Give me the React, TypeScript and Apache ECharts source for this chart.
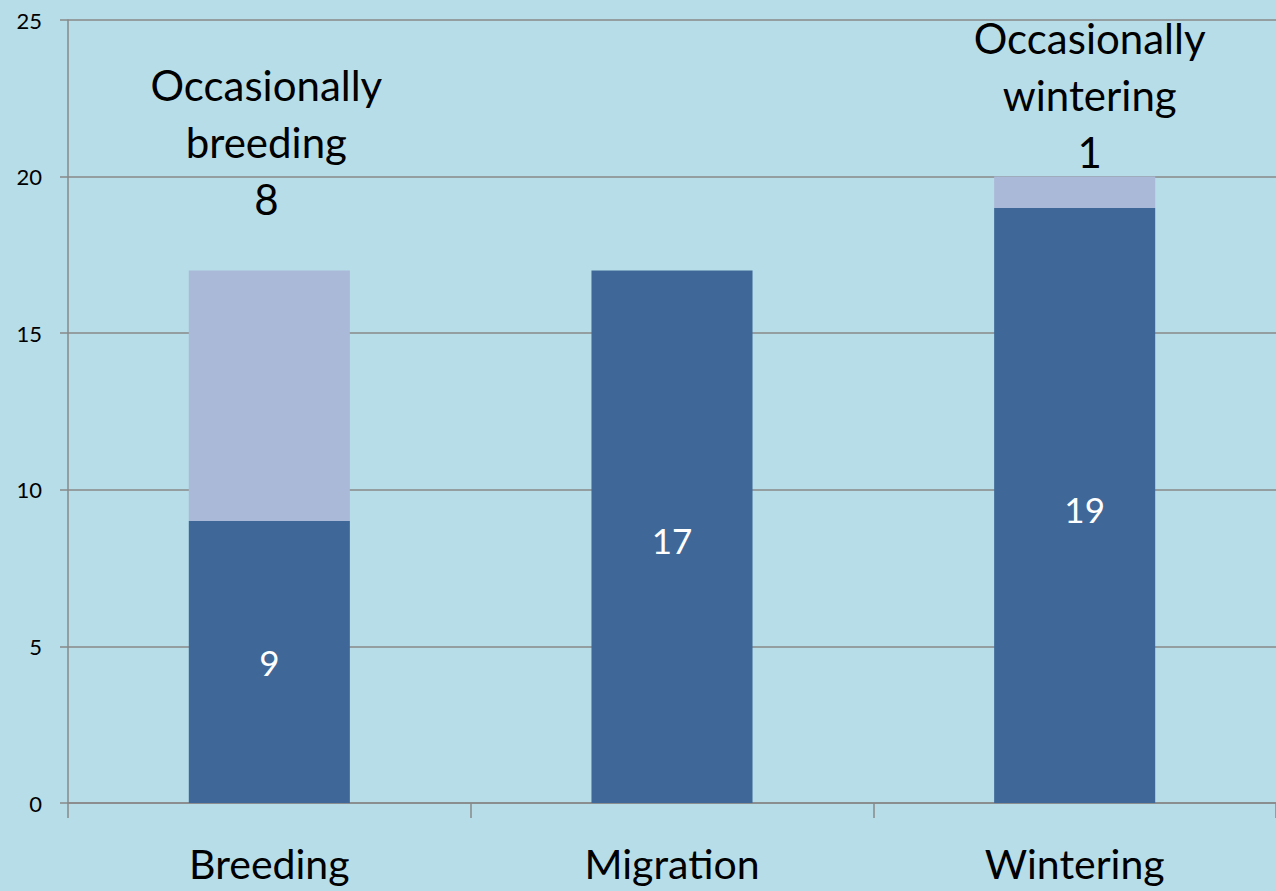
import React, { useEffect, useRef } from "react";
import * as echarts from "echarts";

const categories = ["Breeding", "Migration", "Wintering"];
const regularValues = [9, 17, 19];
const occasionalValues = [8, null, 1];
const occasionalNames = ["Occasionally\nbreeding", "", "Occasionally\nwintering"];
const yTicks = [0, 5, 10, 15, 20, 25];

const FONT = "Lato, 'Liberation Sans', sans-serif";

export default function App() {
  const ref = useRef<HTMLDivElement>(null);
  useEffect(() => {
    document.body.style.margin = "0";
    const chart = echarts.init(ref.current!, null, { renderer: "svg" });
    const topOffsets = [[-3, -43], [0, 0], [15, 4]];
    const insideOffsets = [[0, 0], [0, 3], [10, 4]];
    chart.setOption({
      animation: false,
      backgroundColor: "#b7dde8",
      textStyle: { fontFamily: FONT },
      grid: { left: 68, right: 0, top: 20, bottom: 88, containLabel: false },
      xAxis: {
        type: "category",
        data: categories,
        axisLine: { show: true, lineStyle: { color: "#888888", width: 1.5 } },
        axisTick: { show: true, alignWithLabel: false, length: 15, lineStyle: { color: "#888888", width: 1.5 } },
        axisLabel: { color: "#000", fontSize: 41, fontFamily: FONT, margin: 40 },
      },
      yAxis: {
        type: "value",
        min: yTicks[0],
        max: yTicks[yTicks.length - 1],
        interval: 5,
        axisLine: { show: true, lineStyle: { color: "#888888", width: 1.5 } },
        axisTick: { show: true, length: 8, lineStyle: { color: "#888888", width: 1.5 } },
        axisLabel: { color: "#000", fontSize: 22, fontFamily: FONT, margin: 26 },
        splitLine: { show: true, lineStyle: { color: "#888888", width: 1.5 } },
      },
      series: [
        {
          name: "Regular",
          type: "bar",
          stack: "total",
          barWidth: "40%",
          itemStyle: { color: "#3f6899" },
          data: regularValues.map((v, i) => ({
            value: v,
            label: { offset: insideOffsets[i] },
          })),
          label: {
            show: true,
            position: "inside",
            color: "#ffffff",
            fontSize: 35,
            fontFamily: FONT,
          },
        },
        {
          name: "Occasional",
          type: "bar",
          stack: "total",
          barWidth: "40%",
          itemStyle: { color: "#aab9d7" },
          data: occasionalValues.map((v, i) => ({
            value: v,
            label: {
              show: v != null,
              offset: topOffsets[i],
              formatter: occasionalNames[i] + "\n" + (v ?? ""),
            },
          })),
          label: {
            show: true,
            position: "top",
            distance: 0,
            color: "#000000",
            fontSize: 42,
            lineHeight: 57,
            align: "center",
            fontFamily: FONT,
          },
        },
      ],
    });
    return () => chart.dispose();
  }, []);
  return <div ref={ref} style={{ position: "absolute", left: 0, top: 0, width: 1276, height: 891 }} />;
}
